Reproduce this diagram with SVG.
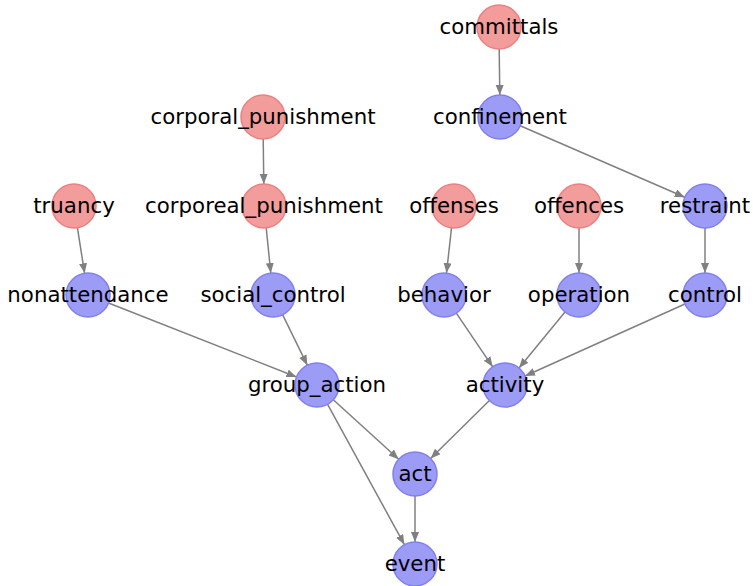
<svg xmlns="http://www.w3.org/2000/svg" width="753" height="586" viewBox="0 0 753 586">
<style>
.e{stroke:#808080;stroke-width:1.5;fill:none;marker-end:url(#ah)}
.r{fill:#f29c9c;stroke:#ec8080;stroke-width:1.5}
.b{fill:#9c9cf7;stroke:#8080ee;stroke-width:1.5}
text{font-family:"DejaVu Sans",sans-serif;font-size:21.3px;fill:#000;text-anchor:middle}
</style>
<defs>
<marker id="ah" markerUnits="userSpaceOnUse" markerWidth="11" markerHeight="9" refX="10" refY="4" orient="auto">
<path d="M0,0 L10,4 L0,8 z" fill="#808080"/>
</marker>
</defs>
<rect width="753" height="586" fill="#fff"/>
<g id="edges">
<line class="e" x1="499.2" y1="49" x2="499.8" y2="95"/>
<line class="e" x1="520.2" y1="125.8" x2="684.8" y2="197.2"/>
<line class="e" x1="263.2" y1="139" x2="263.8" y2="184"/>
<line class="e" x1="266.2" y1="227.9" x2="270.8" y2="273.1"/>
<line class="e" x1="77.4" y1="227.7" x2="84.6" y2="273.3"/>
<line class="e" x1="451.5" y1="227.9" x2="446.5" y2="273.1"/>
<line class="e" x1="579" y1="228" x2="579" y2="273"/>
<line class="e" x1="705" y1="228" x2="705" y2="273"/>
<line class="e" x1="108.5" y1="303" x2="296.5" y2="377"/>
<line class="e" x1="282.7" y1="314.8" x2="307.3" y2="365.2"/>
<line class="e" x1="456.3" y1="313.2" x2="492.7" y2="366.8"/>
<line class="e" x1="565" y1="312" x2="519" y2="368"/>
<line class="e" x1="684.9" y1="304" x2="525.1" y2="376"/>
<line class="e" x1="333.3" y1="399.8" x2="398.7" y2="459.2"/>
<line class="e" x1="327.6" y1="404.3" x2="404.4" y2="544.7"/>
<line class="e" x1="489.4" y1="400.5" x2="430.6" y2="458.5"/>
<line class="e" x1="415" y1="496" x2="415" y2="542"/>
</g>
<g id="committals"><circle class="r" cx="499" cy="27" r="22"/><text x="499" y="34">committals</text></g>
<g id="confinement"><circle class="b" cx="500" cy="117" r="22"/><text x="500" y="124">confinement</text></g>
<g id="corporal_punishment"><circle class="r" cx="263" cy="117" r="22"/><text x="263" y="124">corporal_punishment</text></g>
<g id="corporeal_punishment"><circle class="r" cx="264" cy="206" r="22"/><text x="264" y="213">corporeal_punishment</text></g>
<g id="truancy"><circle class="r" cx="74" cy="206" r="22"/><text x="74" y="213">truancy</text></g>
<g id="offenses"><circle class="r" cx="454" cy="206" r="22"/><text x="454" y="213">offenses</text></g>
<g id="offences"><circle class="r" cx="579" cy="206" r="22"/><text x="579" y="213">offences</text></g>
<g id="restraint"><circle class="b" cx="705" cy="206" r="22"/><text x="705" y="213">restraint</text></g>
<g id="nonattendance"><circle class="b" cx="88" cy="295" r="22"/><text x="88" y="302">nonattendance</text></g>
<g id="social_control"><circle class="b" cx="273" cy="295" r="22"/><text x="273" y="302">social_control</text></g>
<g id="behavior"><circle class="b" cx="444" cy="295" r="22"/><text x="444" y="302">behavior</text></g>
<g id="operation"><circle class="b" cx="579" cy="295" r="22"/><text x="579" y="302">operation</text></g>
<g id="control"><circle class="b" cx="705" cy="295" r="22"/><text x="705" y="302">control</text></g>
<g id="group_action"><circle class="b" cx="317" cy="385" r="22"/><text x="317" y="392">group_action</text></g>
<g id="activity"><circle class="b" cx="505" cy="385" r="22"/><text x="505" y="392">activity</text></g>
<g id="act"><circle class="b" cx="415" cy="474" r="22"/><text x="415" y="481">act</text></g>
<g id="event"><circle class="b" cx="415" cy="564" r="22"/><text x="415" y="571">event</text></g>
</svg>
